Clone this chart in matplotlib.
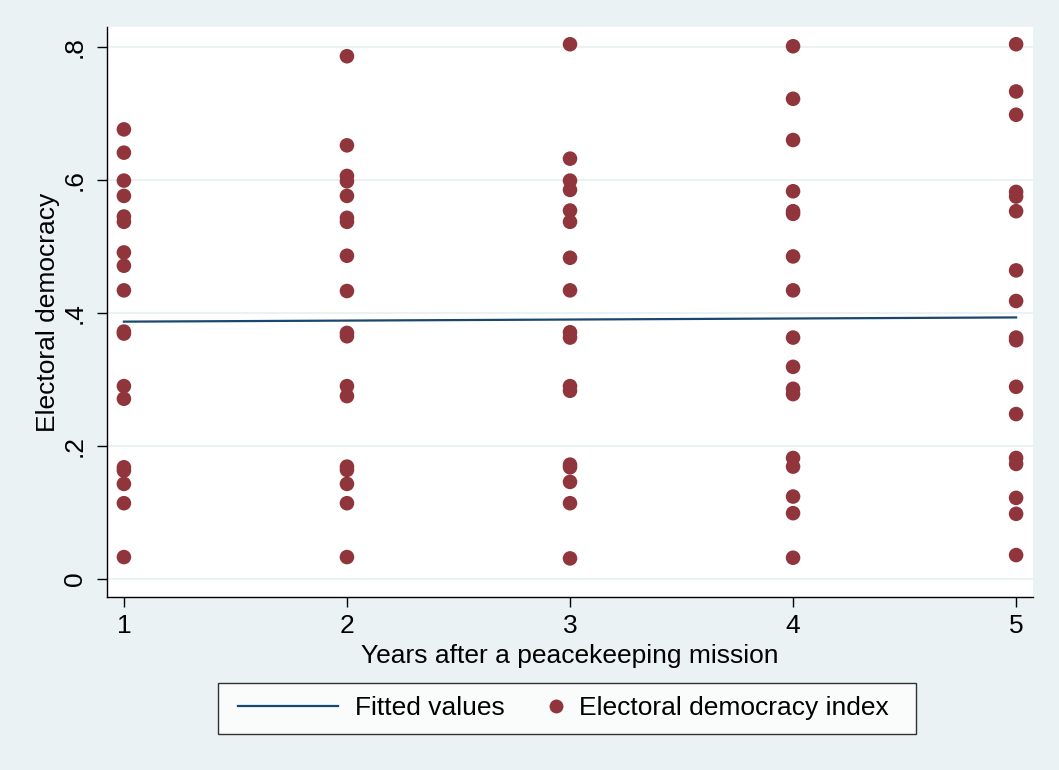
import numpy as np
import matplotlib
matplotlib.use("Agg")
import matplotlib.pyplot as plt
from matplotlib.lines import Line2D
from matplotlib.legend_handler import HandlerBase

# Electoral democracy index by years after a peacekeeping mission
year1 = [0.676, 0.641, 0.599, 0.576, 0.545, 0.537, 0.491, 0.471, 0.434,
         0.372, 0.369, 0.290, 0.271, 0.168, 0.163, 0.143, 0.114, 0.033]
year2 = [0.786, 0.652, 0.606, 0.598, 0.576, 0.543, 0.537, 0.486, 0.433,
         0.370, 0.365, 0.290, 0.275, 0.169, 0.164, 0.143, 0.114, 0.033]
year3 = [0.804, 0.632, 0.599, 0.585, 0.554, 0.537, 0.483, 0.434,
         0.371, 0.363, 0.290, 0.283, 0.172, 0.168, 0.146, 0.114, 0.031]
year4 = [0.801, 0.722, 0.660, 0.583, 0.553, 0.549, 0.485, 0.434,
         0.363, 0.319, 0.286, 0.278, 0.182, 0.169, 0.124, 0.099, 0.032]
year5 = [0.804, 0.733, 0.698, 0.582, 0.575, 0.553, 0.464, 0.418,
         0.363, 0.359, 0.289, 0.248, 0.182, 0.173, 0.122, 0.098, 0.036]
years = [1, 2, 3, 4, 5]
yticks = [0, 0.2, 0.4, 0.6, 0.8]
ytick_labels = ["0", ".2", ".4", ".6", ".8"]

bg = "#EAF2F3"
maroon = "#90353B"
navy = "#1A476F"
FS = 19

plt.rcParams["font.family"] = ["Liberation Sans", "DejaVu Sans"]


class LineKey(HandlerBase):
    # fitted line key, starting a little in from the frame
    def create_artists(self, legend, orig_handle, xdescent, ydescent,
                       width, height, fontsize, trans):
        y0 = height / 2 - ydescent
        ln = Line2D([-xdescent + 5, -xdescent + width], [y0, y0],
                    color=orig_handle.get_color(), lw=orig_handle.get_linewidth())
        ln.set_transform(trans)
        return [ln]


class DotKey(HandlerBase):
    # single dot placed close to its label
    def create_artists(self, legend, orig_handle, xdescent, ydescent,
                       width, height, fontsize, trans):
        y0 = height / 2 - ydescent
        dot = Line2D([-xdescent + width - 4.5], [y0], marker="o", linestyle="none",
                     markersize=orig_handle.get_markersize(),
                     markerfacecolor=orig_handle.get_markerfacecolor(),
                     markeredgecolor="none")
        dot.set_transform(trans)
        return [dot]


x = np.concatenate([[yr] * len(v) for yr, v in zip(years, [year1, year2, year3, year4, year5])])
y = np.concatenate([year1, year2, year3, year4, year5])
slope, intercept = np.polyfit(x, y, 1)
xfit = np.array([years[0], years[-1]])

fig = plt.figure(figsize=(10.59, 7.70), dpi=100, facecolor=bg)
ax = fig.add_axes([0.101, 0.2247, 0.8745, 0.7403])
ax.set_facecolor("white")

for yt in yticks:
    ax.axhline(yt, color=bg, lw=1.5, zorder=0)

fit_line, = ax.plot(xfit, intercept + slope * xfit, color=navy, lw=1.6, zorder=2)
ax.scatter(x, y, s=110, color=maroon, edgecolors="none", zorder=3)

ax.set_xlim(0.924, 5.076)
ax.set_ylim(-0.027, 0.830)
ax.set_xticks(years)
ax.set_yticks(yticks)
ax.set_yticklabels(ytick_labels, rotation=90, va="center")
ax.tick_params(axis="both", direction="out", length=7.5, width=1, labelsize=FS, color="black")
ax.tick_params(axis="y", pad=7)
ax.tick_params(axis="x", pad=5)
for side in ["top", "right"]:
    ax.spines[side].set_visible(False)
for side in ["left", "bottom"]:
    ax.spines[side].set_linewidth(1)
    ax.spines[side].set_color("black")

ax.set_xlabel("Years after a peacekeeping mission", fontsize=FS, labelpad=4)
ax.set_ylabel("Electoral democracy", fontsize=FS, labelpad=2)

dot_key = Line2D([], [], marker="o", markersize=10, markerfacecolor=maroon, linestyle="none")
leg = ax.legend([fit_line, dot_key], ["Fitted values", "Electoral democracy index  "],
                handler_map={fit_line: LineKey(), dot_key: DotKey()},
                loc="upper center", bbox_to_anchor=(0.497, -0.128), ncol=2, fontsize=FS,
                frameon=True, fancybox=False, edgecolor="black", handlelength=4.03,
                columnspacing=-1.85, borderpad=0.5, handletextpad=0.64)
leg.get_frame().set_linewidth(1)

fig.savefig("out.png", dpi=100, facecolor=bg)
